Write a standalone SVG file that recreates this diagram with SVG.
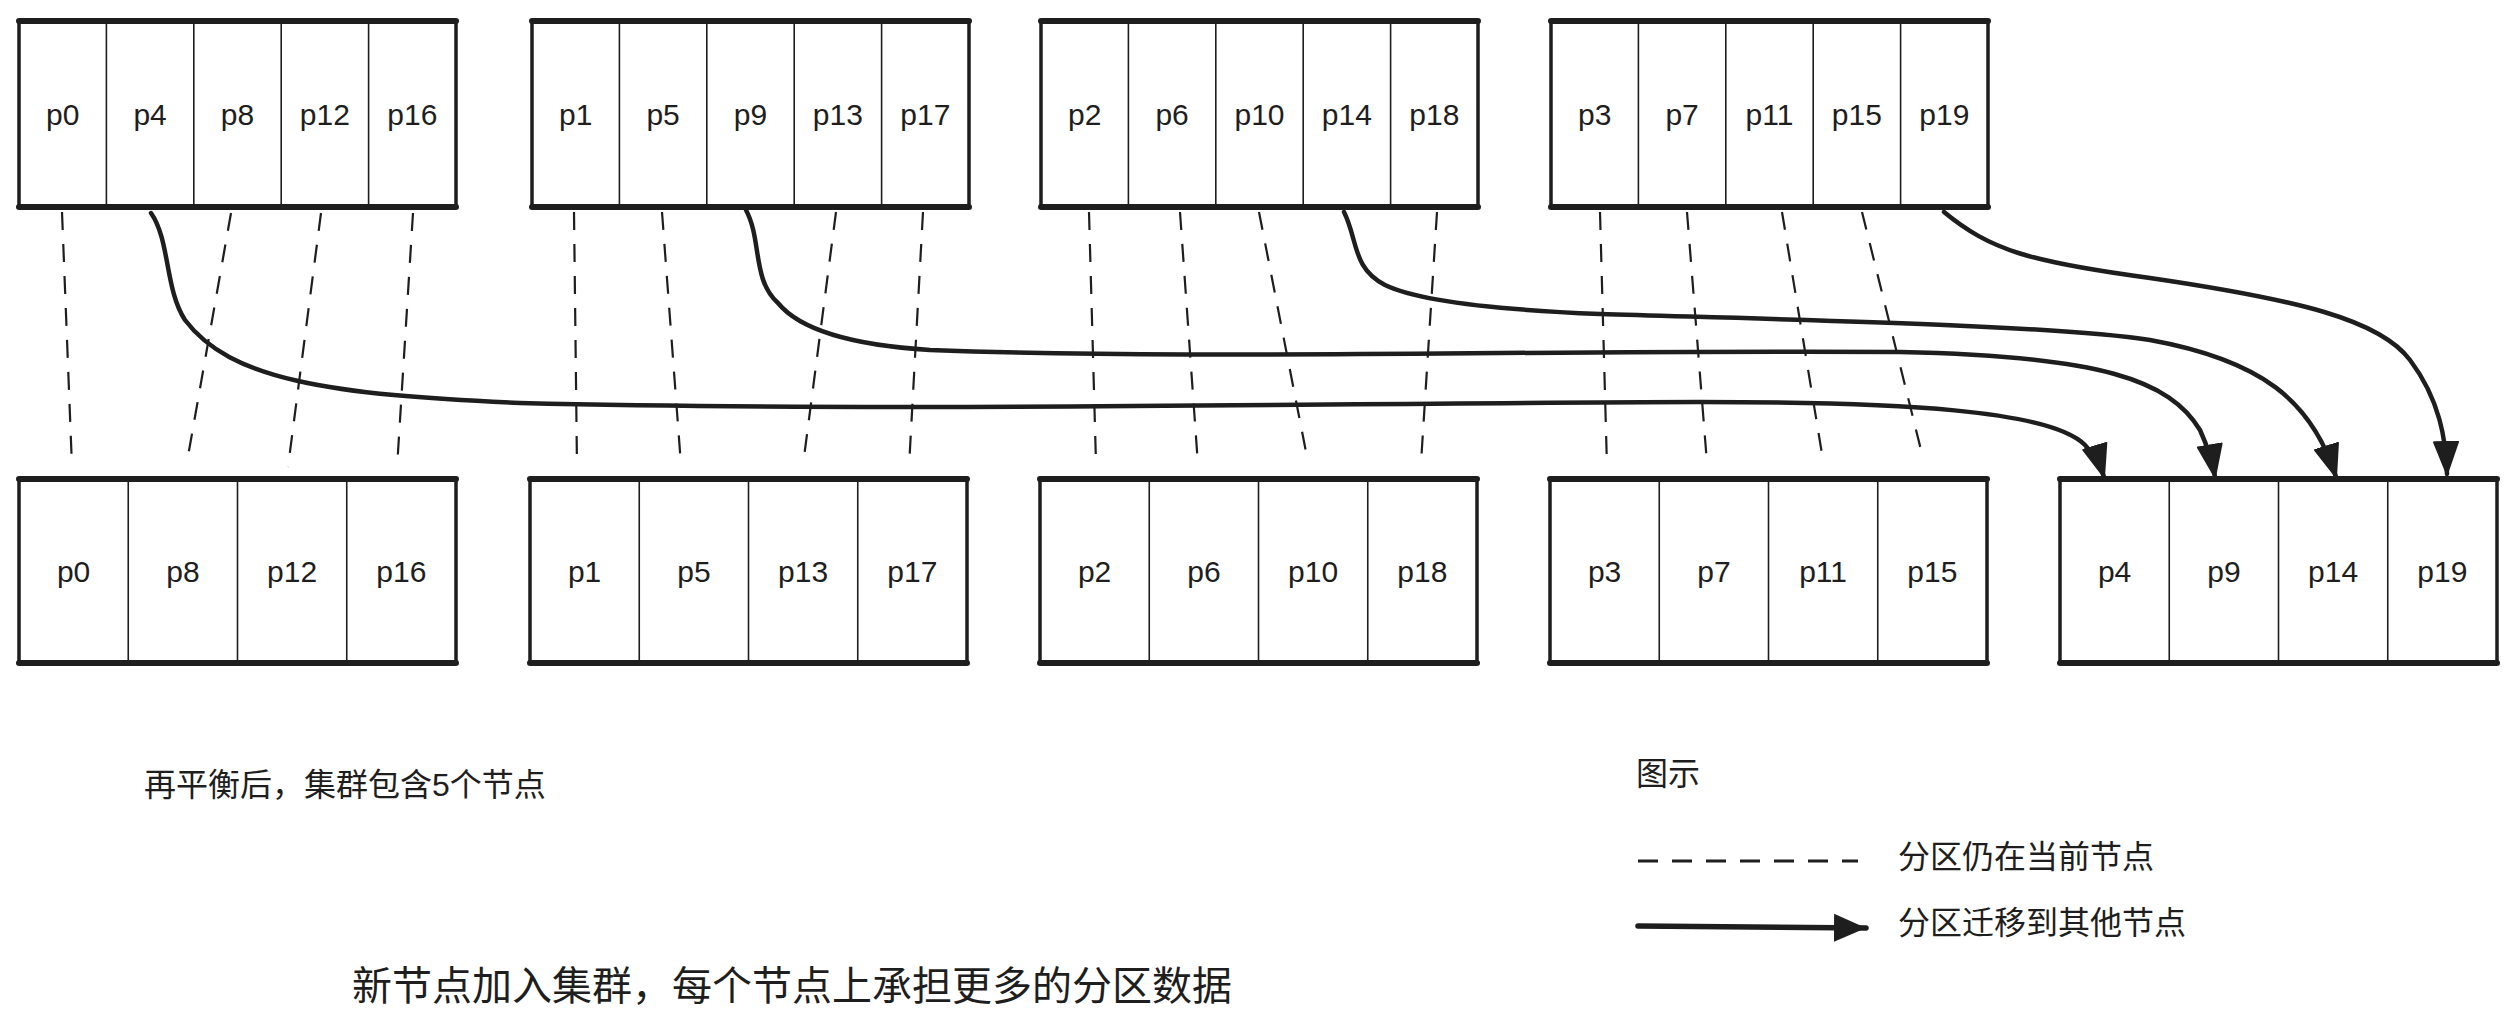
<svg xmlns="http://www.w3.org/2000/svg" width="2518" height="1032" viewBox="0 0 2518 1032">
<defs>
<style>
.bg{fill:#ffffff}
.box{fill:#ffffff;stroke:#1e1e1e;stroke-width:3.5}
.edge{stroke:#1e1e1e;stroke-width:6;stroke-linecap:round}
.div{stroke:#1e1e1e;stroke-width:1.6}
.lbl{font-family:"Liberation Sans","DejaVu Sans",sans-serif;font-size:30px;fill:#1e1e1e;text-anchor:middle}
.txt{font-family:"Liberation Sans","Noto Sans CJK SC",sans-serif;fill:#1e1e1e}
.dash{fill:none;stroke:#1e1e1e;stroke-width:2.2;stroke-dasharray:18 14}
.mig{fill:none;stroke:#1e1e1e;stroke-width:4.5;stroke-linecap:round;marker-end:url(#ah)}
</style>
<marker id="ah" markerUnits="userSpaceOnUse" markerWidth="36" markerHeight="28" viewBox="0 0 36 28" refX="33" refY="14" orient="auto">
<path d="M1,2 L33,14 L1,26 Z" fill="#1e1e1e" stroke="#1e1e1e" stroke-width="2" stroke-linejoin="round"/>
</marker>
<marker id="ah2" markerUnits="userSpaceOnUse" markerWidth="40" markerHeight="32" viewBox="0 0 40 32" refX="32" refY="16" orient="auto">
<path d="M0,2 L32,16 L0,30 Z" fill="#1e1e1e"/>
</marker>
</defs>
<rect class="bg" x="0" y="0" width="2518" height="1032"/>

<g id="connectors">
<path class="dash" d="M62,212 L72,467"/>
<path class="dash" d="M231,213 L187,462"/>
<path class="dash" d="M321,213 L288,467"/>
<path class="dash" d="M413,213 L397,468"/>
<path class="dash" d="M574,212 L577,467"/>
<path class="dash" d="M662,212 L681,465"/>
<path class="dash" d="M836,212 L803,465"/>
<path class="dash" d="M923,212 L909,467"/>
<path class="dash" d="M1089,212 L1096,463"/>
<path class="dash" d="M1180,212 L1198,465"/>
<path class="dash" d="M1259,212 L1308,462"/>
<path class="dash" d="M1437,212 L1421,463"/>
<path class="dash" d="M1600,212 L1607,467"/>
<path class="dash" d="M1687,212 L1707,463"/>
<path class="dash" d="M1782,212 L1823,460"/>
<path class="dash" d="M1862,212 L1923,458"/>
<path class="mig" d="M151,213 C170,240 165,290 185,320 C230,380 330,395 520,403 C900,412 1300,403 1700,402 C1900,402 2050,410 2085,445 C2097,458 2101,467 2104,477"/>
<path class="mig" d="M746,210 C762,240 752,280 778,303 C800,330 850,345 930,350 C1200,360 1500,350 1900,352 C2100,356 2170,380 2200,430 C2209,450 2213,465 2215,477"/>
<path class="mig" d="M1344,212 C1358,240 1352,268 1385,285 C1420,302 1500,310 1600,314 C1800,320 2050,325 2150,340 C2260,360 2312,400 2336,477"/>
<path class="mig" d="M1944,212 C1990,250 2030,262 2150,278 C2300,300 2380,320 2410,360 C2440,400 2446,440 2447,474"/>
</g>

<g id="nodeA" transform="translate(19,21)">
<rect class="box" x="0" y="0" width="437" height="186"/>
<line class="edge" x1="0" y1="0" x2="437" y2="0"/><line class="edge" x1="0" y1="186" x2="437" y2="186"/>
<line class="div" x1="87.4" y1="0" x2="87.4" y2="186"/><line class="div" x1="174.8" y1="0" x2="174.8" y2="186"/><line class="div" x1="262.2" y1="0" x2="262.2" y2="186"/><line class="div" x1="349.6" y1="0" x2="349.6" y2="186"/>
<text class="lbl" x="43.7" y="104">p0</text><text class="lbl" x="131.1" y="104">p4</text><text class="lbl" x="218.5" y="104">p8</text><text class="lbl" x="305.9" y="104">p12</text><text class="lbl" x="393.3" y="104">p16</text>
</g>
<g id="nodeB" transform="translate(532,21)">
<rect class="box" x="0" y="0" width="437" height="186"/>
<line class="edge" x1="0" y1="0" x2="437" y2="0"/><line class="edge" x1="0" y1="186" x2="437" y2="186"/>
<line class="div" x1="87.4" y1="0" x2="87.4" y2="186"/><line class="div" x1="174.8" y1="0" x2="174.8" y2="186"/><line class="div" x1="262.2" y1="0" x2="262.2" y2="186"/><line class="div" x1="349.6" y1="0" x2="349.6" y2="186"/>
<text class="lbl" x="43.7" y="104">p1</text><text class="lbl" x="131.1" y="104">p5</text><text class="lbl" x="218.5" y="104">p9</text><text class="lbl" x="305.9" y="104">p13</text><text class="lbl" x="393.3" y="104">p17</text>
</g>
<g id="nodeC" transform="translate(1041,21)">
<rect class="box" x="0" y="0" width="437" height="186"/>
<line class="edge" x1="0" y1="0" x2="437" y2="0"/><line class="edge" x1="0" y1="186" x2="437" y2="186"/>
<line class="div" x1="87.4" y1="0" x2="87.4" y2="186"/><line class="div" x1="174.8" y1="0" x2="174.8" y2="186"/><line class="div" x1="262.2" y1="0" x2="262.2" y2="186"/><line class="div" x1="349.6" y1="0" x2="349.6" y2="186"/>
<text class="lbl" x="43.7" y="104">p2</text><text class="lbl" x="131.1" y="104">p6</text><text class="lbl" x="218.5" y="104">p10</text><text class="lbl" x="305.9" y="104">p14</text><text class="lbl" x="393.3" y="104">p18</text>
</g>
<g id="nodeD" transform="translate(1551,21)">
<rect class="box" x="0" y="0" width="437" height="186"/>
<line class="edge" x1="0" y1="0" x2="437" y2="0"/><line class="edge" x1="0" y1="186" x2="437" y2="186"/>
<line class="div" x1="87.4" y1="0" x2="87.4" y2="186"/><line class="div" x1="174.8" y1="0" x2="174.8" y2="186"/><line class="div" x1="262.2" y1="0" x2="262.2" y2="186"/><line class="div" x1="349.6" y1="0" x2="349.6" y2="186"/>
<text class="lbl" x="43.7" y="104">p3</text><text class="lbl" x="131.1" y="104">p7</text><text class="lbl" x="218.5" y="104">p11</text><text class="lbl" x="305.9" y="104">p15</text><text class="lbl" x="393.3" y="104">p19</text>
</g>

<g id="nodeE" transform="translate(19,479)">
<rect class="box" x="0" y="0" width="437" height="184"/>
<line class="edge" x1="0" y1="0" x2="437" y2="0"/><line class="edge" x1="0" y1="184" x2="437" y2="184"/>
<line class="div" x1="109.25" y1="0" x2="109.25" y2="184"/><line class="div" x1="218.5" y1="0" x2="218.5" y2="184"/><line class="div" x1="327.75" y1="0" x2="327.75" y2="184"/>
<text class="lbl" x="54.6" y="103">p0</text><text class="lbl" x="163.9" y="103">p8</text><text class="lbl" x="273.1" y="103">p12</text><text class="lbl" x="382.4" y="103">p16</text>
</g>
<g id="nodeF" transform="translate(530,479)">
<rect class="box" x="0" y="0" width="437" height="184"/>
<line class="edge" x1="0" y1="0" x2="437" y2="0"/><line class="edge" x1="0" y1="184" x2="437" y2="184"/>
<line class="div" x1="109.25" y1="0" x2="109.25" y2="184"/><line class="div" x1="218.5" y1="0" x2="218.5" y2="184"/><line class="div" x1="327.75" y1="0" x2="327.75" y2="184"/>
<text class="lbl" x="54.6" y="103">p1</text><text class="lbl" x="163.9" y="103">p5</text><text class="lbl" x="273.1" y="103">p13</text><text class="lbl" x="382.4" y="103">p17</text>
</g>
<g id="nodeG" transform="translate(1040,479)">
<rect class="box" x="0" y="0" width="437" height="184"/>
<line class="edge" x1="0" y1="0" x2="437" y2="0"/><line class="edge" x1="0" y1="184" x2="437" y2="184"/>
<line class="div" x1="109.25" y1="0" x2="109.25" y2="184"/><line class="div" x1="218.5" y1="0" x2="218.5" y2="184"/><line class="div" x1="327.75" y1="0" x2="327.75" y2="184"/>
<text class="lbl" x="54.6" y="103">p2</text><text class="lbl" x="163.9" y="103">p6</text><text class="lbl" x="273.1" y="103">p10</text><text class="lbl" x="382.4" y="103">p18</text>
</g>
<g id="nodeH" transform="translate(1550,479)">
<rect class="box" x="0" y="0" width="437" height="184"/>
<line class="edge" x1="0" y1="0" x2="437" y2="0"/><line class="edge" x1="0" y1="184" x2="437" y2="184"/>
<line class="div" x1="109.25" y1="0" x2="109.25" y2="184"/><line class="div" x1="218.5" y1="0" x2="218.5" y2="184"/><line class="div" x1="327.75" y1="0" x2="327.75" y2="184"/>
<text class="lbl" x="54.6" y="103">p3</text><text class="lbl" x="163.9" y="103">p7</text><text class="lbl" x="273.1" y="103">p11</text><text class="lbl" x="382.4" y="103">p15</text>
</g>
<g id="nodeI" transform="translate(2060,479)">
<rect class="box" x="0" y="0" width="437" height="184"/>
<line class="edge" x1="0" y1="0" x2="437" y2="0"/><line class="edge" x1="0" y1="184" x2="437" y2="184"/>
<line class="div" x1="109.25" y1="0" x2="109.25" y2="184"/><line class="div" x1="218.5" y1="0" x2="218.5" y2="184"/><line class="div" x1="327.75" y1="0" x2="327.75" y2="184"/>
<text class="lbl" x="54.6" y="103">p4</text><text class="lbl" x="163.9" y="103">p9</text><text class="lbl" x="273.1" y="103">p14</text><text class="lbl" x="382.4" y="103">p19</text>
</g>

<g id="caption-rebalance">
<text class="txt" x="144" y="796" font-size="32">再平衡后，集群包含5个节点</text>
</g>
<g id="title">
<text class="txt" x="352" y="1000" font-size="40">新节点加入集群，每个节点上承担更多的分区数据</text>
</g>
<g id="legend">
<text class="txt" x="1636" y="785" font-size="32">图示</text>
<line x1="1638" y1="861" x2="1858" y2="861" stroke="#1e1e1e" stroke-width="3" stroke-dasharray="20 14"/>
<text class="txt" x="1898" y="868" font-size="32">分区仍在当前节点</text>
<line x1="1638" y1="926" x2="1866" y2="928" stroke="#1e1e1e" stroke-width="5.5" stroke-linecap="round" marker-end="url(#ah2)"/>
<text class="txt" x="1898" y="934" font-size="32">分区迁移到其他节点</text>
</g>
</svg>
